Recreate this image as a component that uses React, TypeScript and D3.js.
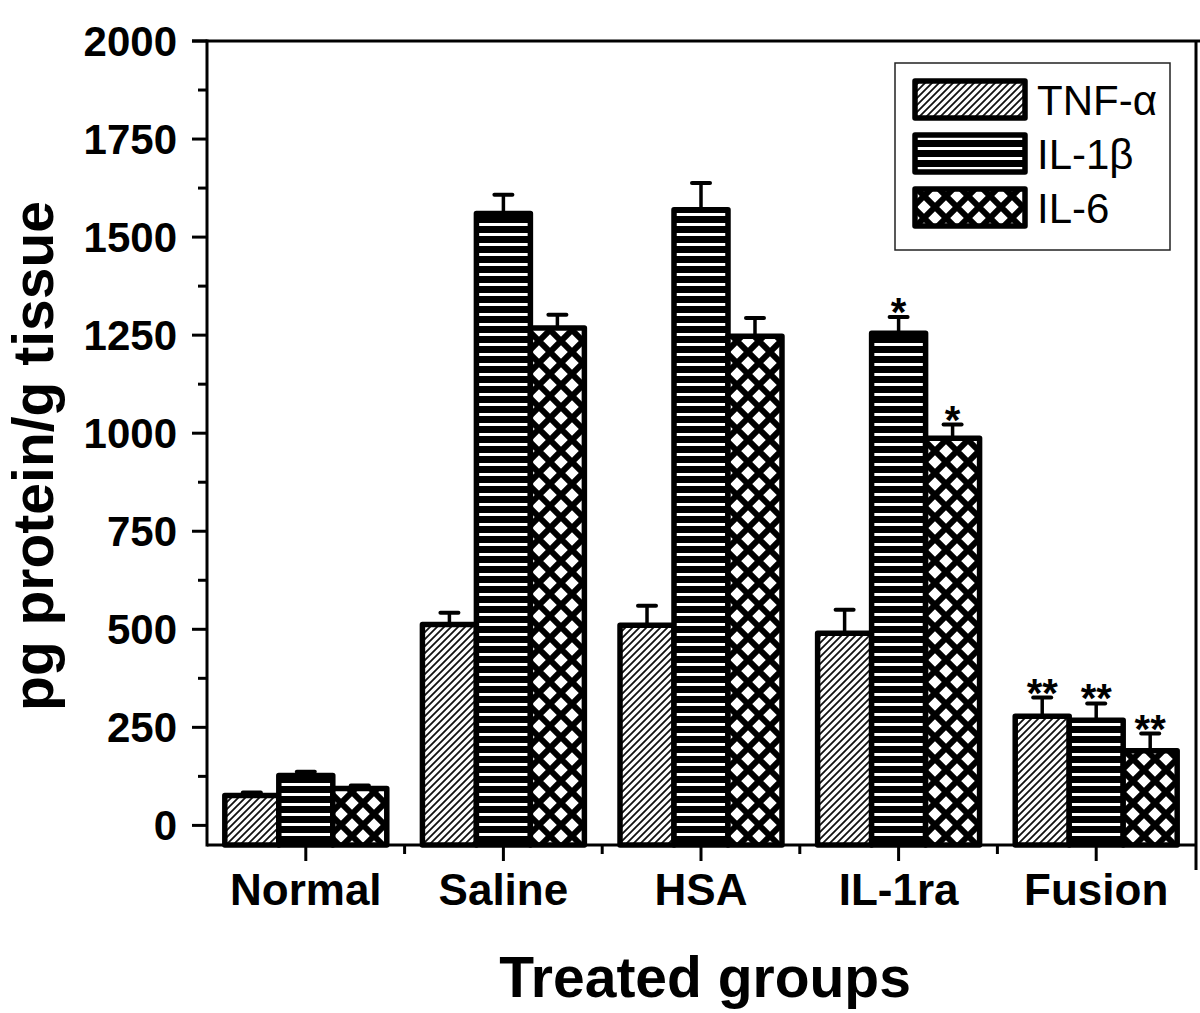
import React, { useEffect, useRef } from 'react';
import * as d3 from 'd3';

const groups = ['Normal', 'Saline', 'HSA', 'IL-1ra', 'Fusion'];
const series = ['TNF-α', 'IL-1β', 'IL-6'];
const tnfValues = [76, 512, 510, 490, 278];
const tnfErrors = [8, 30, 50, 60, 48];
const il1bValues = [127, 1560, 1570, 1255, 268];
const il1bErrors = [10, 48, 68, 41, 43];
const il6Values = [94, 1268, 1247, 987, 190];
const il6Errors = [8, 34, 47, 35, 44];
const il1bMarks = ['', '', '', '*', '**'];
const il6Marks = ['', '', '', '*', '**'];
const tnfMarks = ['', '', '', '', '**'];
const yTicks = [0, 250, 500, 750, 1000, 1250, 1500, 1750, 2000];

const FONT = '"Liberation Sans", Arial, Helvetica, sans-serif';

export default function App() {
  const svgRef = useRef<SVGSVGElement>(null);

  useEffect(() => {
    if (!svgRef.current) return;
    const svg = d3.select(svgRef.current);
    svg.selectAll('*').remove();

    const left = 207, right = 1195, top = 41, bottom = 845;

    const x0 = d3.scaleBand<string>().domain(groups).range([left, right]).padding(0);
    const x1 = d3.scaleBand<string>().domain(series).range([0, x0.bandwidth()])
      .paddingInner(0).paddingOuter(0.33);
    const y = d3.scaleLinear().domain([-50, 2000]).range([bottom, top]);

    // patterns
    const defs = svg.append('defs');
    const diag = defs.append('pattern').attr('id', 'pat-diag')
      .attr('patternUnits', 'userSpaceOnUse').attr('width', 7).attr('height', 7);
    diag.append('rect').attr('width', 7).attr('height', 7).attr('fill', '#fff');
    diag.append('path').attr('d', 'M-2,2 L2,-2 M0,7 L7,0 M5,9 L9,5')
      .attr('stroke', '#111').attr('stroke-width', 1.8);

    const horiz = defs.append('pattern').attr('id', 'pat-horiz')
      .attr('patternUnits', 'userSpaceOnUse').attr('width', 10).attr('height', 10);
    horiz.append('rect').attr('width', 10).attr('height', 10).attr('fill', '#000');
    horiz.append('rect').attr('y', 3).attr('width', 10).attr('height', 3).attr('fill', '#fff');

    const cross = defs.append('pattern').attr('id', 'pat-cross')
      .attr('patternUnits', 'userSpaceOnUse').attr('width', 22).attr('height', 22);
    cross.append('rect').attr('width', 22).attr('height', 22).attr('fill', '#fff');
    cross.append('path').attr('d', 'M-2,-2 L24,24 M24,-2 L-2,24')
      .attr('stroke', '#000').attr('stroke-width', 6);

    const fills = ['url(#pat-diag)', 'url(#pat-horiz)', 'url(#pat-cross)'];
    const valueSets = [tnfValues, il1bValues, il6Values];
    const errorSets = [tnfErrors, il1bErrors, il6Errors];
    const markSets = [tnfMarks, il1bMarks, il6Marks];

    // bars
    series.forEach((s, si) => {
      const g = svg.append('g');
      const data = groups.map((grp, gi) => ({
        grp, v: valueSets[si][gi], e: errorSets[si][gi], m: markSets[si][gi]
      }));
      // error bars (upper only)
      g.selectAll('.err').data(data).enter().append('line')
        .attr('x1', d => x0(d.grp)! + x1(s)! + x1.bandwidth() / 2)
        .attr('x2', d => x0(d.grp)! + x1(s)! + x1.bandwidth() / 2)
        .attr('y1', d => y(d.v)).attr('y2', d => y(d.v + d.e))
        .attr('stroke', '#000').attr('stroke-width', 3.5);
      g.selectAll('.cap').data(data).enter().append('line')
        .attr('x1', d => x0(d.grp)! + x1(s)! + x1.bandwidth() / 2 - 9)
        .attr('x2', d => x0(d.grp)! + x1(s)! + x1.bandwidth() / 2 + 9)
        .attr('y1', d => y(d.v + d.e)).attr('y2', d => y(d.v + d.e))
        .attr('stroke', '#000').attr('stroke-width', 4).attr('stroke-linecap', 'round');
      g.selectAll('rect').data(data).enter().append('rect')
        .attr('x', d => x0(d.grp)! + x1(s)!)
        .attr('width', x1.bandwidth())
        .attr('y', d => y(d.v))
        .attr('height', d => bottom - y(d.v))
        .attr('fill', fills[si])
        .attr('stroke', '#000').attr('stroke-width', 5.5).attr('stroke-linejoin', 'round');
      g.selectAll('.mark').data(data.filter(d => d.m)).enter().append('text')
        .attr('x', d => x0(d.grp)! + x1(s)! + x1.bandwidth() / 2)
        .attr('y', d => y(d.v + d.e) + 9)
        .attr('text-anchor', 'middle')
        .style('font-family', FONT).style('font-size', '40px').style('font-weight', 'bold')
        .text(d => d.m);
    });

    // axes
    const axisStroke = (sel: any) => sel.attr('stroke', '#000').attr('stroke-width', 3);
    axisStroke(svg.append('line').attr('x1', left).attr('x2', left).attr('y1', top - 1.5).attr('y2', bottom + 1.5));
    axisStroke(svg.append('line').attr('x1', left).attr('x2', 1197).attr('y1', bottom).attr('y2', bottom));
    axisStroke(svg.append('line').attr('x1', 192).attr('x2', 1200).attr('y1', top).attr('y2', top));
    axisStroke(svg.append('line').attr('x1', 1196).attr('x2', 1196).attr('y1', top).attr('y2', 870));

    // y ticks
    const minor = d3.range(125, 2000, 250);
    svg.selectAll('.ymin').data(minor).enter().append('line')
      .attr('x1', left - 9).attr('x2', left).attr('y1', d => y(d)).attr('y2', d => y(d))
      .attr('stroke', '#000').attr('stroke-width', 3);
    svg.selectAll('.ymaj').data(yTicks).enter().append('line')
      .attr('x1', left - 15).attr('x2', left).attr('y1', d => y(d)).attr('y2', d => y(d))
      .attr('stroke', '#000').attr('stroke-width', 3);
    svg.selectAll('.ylab').data(yTicks).enter().append('text')
      .attr('x', 177).attr('y', d => y(d) + 15)
      .attr('text-anchor', 'end')
      .style('font-family', FONT).style('font-size', '42px').style('font-weight', 'bold')
      .text(d => String(d));

    // x ticks
    svg.selectAll('.xmaj').data(groups).enter().append('line')
      .attr('x1', d => x0(d)! + x0.bandwidth() / 2).attr('x2', d => x0(d)! + x0.bandwidth() / 2)
      .attr('y1', bottom).attr('y2', bottom + 16)
      .attr('stroke', '#000').attr('stroke-width', 3);
    svg.selectAll('.xmin').data(groups.slice(1)).enter().append('line')
      .attr('x1', d => x0(d)!).attr('x2', d => x0(d)!)
      .attr('y1', bottom).attr('y2', bottom + 9)
      .attr('stroke', '#000').attr('stroke-width', 3);
    svg.selectAll('.xlab').data(groups).enter().append('text')
      .attr('x', d => x0(d)! + x0.bandwidth() / 2).attr('y', 905)
      .attr('text-anchor', 'middle')
      .style('font-family', FONT).style('font-size', '44px').style('font-weight', 'bold')
      .text(d => d);

    // axis titles
    svg.append('text').attr('x', 705).attr('y', 997).attr('text-anchor', 'middle')
      .style('font-family', FONT).style('font-size', '57px').style('font-weight', 'bold')
      .text('Treated groups');
    svg.append('text').attr('transform', 'translate(53,456) rotate(-90)').attr('text-anchor', 'middle')
      .style('font-family', FONT).style('font-size', '57px').style('font-weight', 'bold')
      .text('pg protein/g tissue');

    // legend
    const legend = svg.append('g');
    legend.append('rect').attr('x', 895).attr('y', 63).attr('width', 275).attr('height', 187)
      .attr('fill', '#fff').attr('stroke', '#222').attr('stroke-width', 1.5);
    const items = legend.selectAll('.li').data(series).enter().append('g')
      .attr('transform', (_, i) => `translate(0, ${i * 54})`);
    items.append('rect').attr('x', 915).attr('y', 81).attr('width', 110).attr('height', 37)
      .attr('fill', (_, i) => fills[i])
      .attr('stroke', '#000').attr('stroke-width', 5.5).attr('stroke-linejoin', 'round');
    items.append('text').attr('x', 1037).attr('y', 115)
      .style('font-family', FONT).style('font-size', '42px')
      .text(d => d);
  }, []);

  return (
    <svg ref={svgRef} width={1200} height={1013}
      style={{ position: 'absolute', left: 0, top: 0, background: '#fff' }} />
  );
}
